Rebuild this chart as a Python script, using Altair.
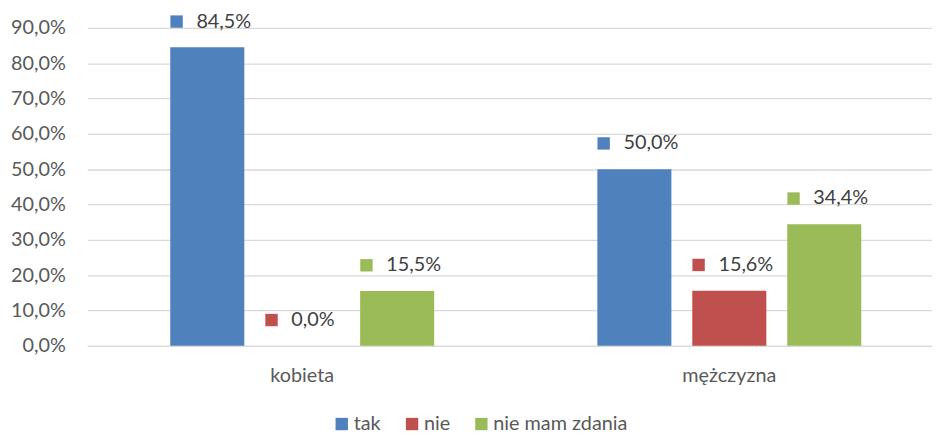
import altair as alt
import pandas as pd

categories = ["kobieta", "mężczyzna"]
series = ["tak", "nie", "nie mam zdania"]
tak = [84.5, 50.0]
nie = [0.0, 15.6]
brak = [15.5, 34.4]
colors = ["#4F81BD", "#C0504D", "#9BBB59"]
y_ticks = [0, 10, 20, 30, 40, 50, 60, 70, 80, 90]

rows = []
for i, c in enumerate(categories):
    for s, vals in zip(series, [tak, nie, brak]):
        rows.append({"kat": c, "seria": s, "wartosc": vals[i]})
df = pd.DataFrame(rows)

FONT = "Lato"

x_enc = alt.X("kat:N", sort=categories, title=None,
              scale=alt.Scale(paddingInner=0.382, paddingOuter=0.18, align=0.54, round=False),
              axis=alt.Axis(labelAngle=0, ticks=False, domainColor="#d9d9d9",
                            labelFontSize=20, labelColor="#595959", labelFont=FONT,
                            labelPadding=20, labelOverlap=False, labelBound=False))
xo_enc = alt.XOffset("seria:N", sort=series,
                     scale=alt.Scale(domain=series, paddingInner=0.22, paddingOuter=0, round=False))
y_enc = alt.Y("wartosc:Q", scale=alt.Scale(domain=[0, 90], nice=False), title=None,
              axis=alt.Axis(values=y_ticks, tickCount=10, domain=False, ticks=False,
                            gridColor="#d9d9d9", gridWidth=1.3,
                            labelExpr="replace(format(datum.value / 100, '.1%'), '.', ',')",
                            labelFontSize=20, labelColor="#595959", labelFont=FONT,
                            labelPadding=22, labelOverlap=False, labelFlush=False,
                            labelBound=False))
color_scale = alt.Scale(domain=series, range=colors)
color_enc = alt.Color("seria:N", sort=series, scale=color_scale,
                      legend=alt.Legend(title=None, orient="none", direction="horizontal",
                                        legendX=247, legendY=390, symbolType="square",
                                        symbolSize=156, symbolStrokeWidth=0,
                                        labelFontSize=20, labelFont=FONT,
                                        labelColor="#595959", labelOffset=2,
                                        columnPadding=21))

base = alt.Chart(df)

bars = base.mark_bar().encode(
    x=x_enc,
    xOffset=xo_enc,
    y=y_enc,
    color=color_enc,
)

labels = base.transform_calculate(
    lbl="replace(format(datum.wartosc / 100, '.1%'), '.', ',')"
).mark_text(align="left", baseline="middle", dx=-11, dy=-26,
            fontSize=20, font=FONT, color="#404040").encode(
    x=x_enc,
    xOffset=xo_enc,
    y=y_enc,
    text="lbl:N",
)

squares = base.mark_point(
    shape="M -37.25 -32.25 h 12.5 v 12.5 h -12.5 Z",
    size=4, filled=True, opacity=1, strokeWidth=0,
).encode(
    x=x_enc,
    xOffset=xo_enc,
    y=y_enc,
    color=alt.Color("seria:N", sort=series, scale=color_scale, legend=None),
)

chart = alt.layer(bars, squares, labels).properties(
    width=853, height=321,
    autosize=alt.AutoSizeParams(type="none"),
    padding={"left": 80, "top": 18, "right": 0, "bottom": 90},
).configure_view(stroke=None).configure_axis(grid=True).configure_axisX(grid=False)

chart.save("out.html", embed_options={"renderer": "svg", "actions": False})
